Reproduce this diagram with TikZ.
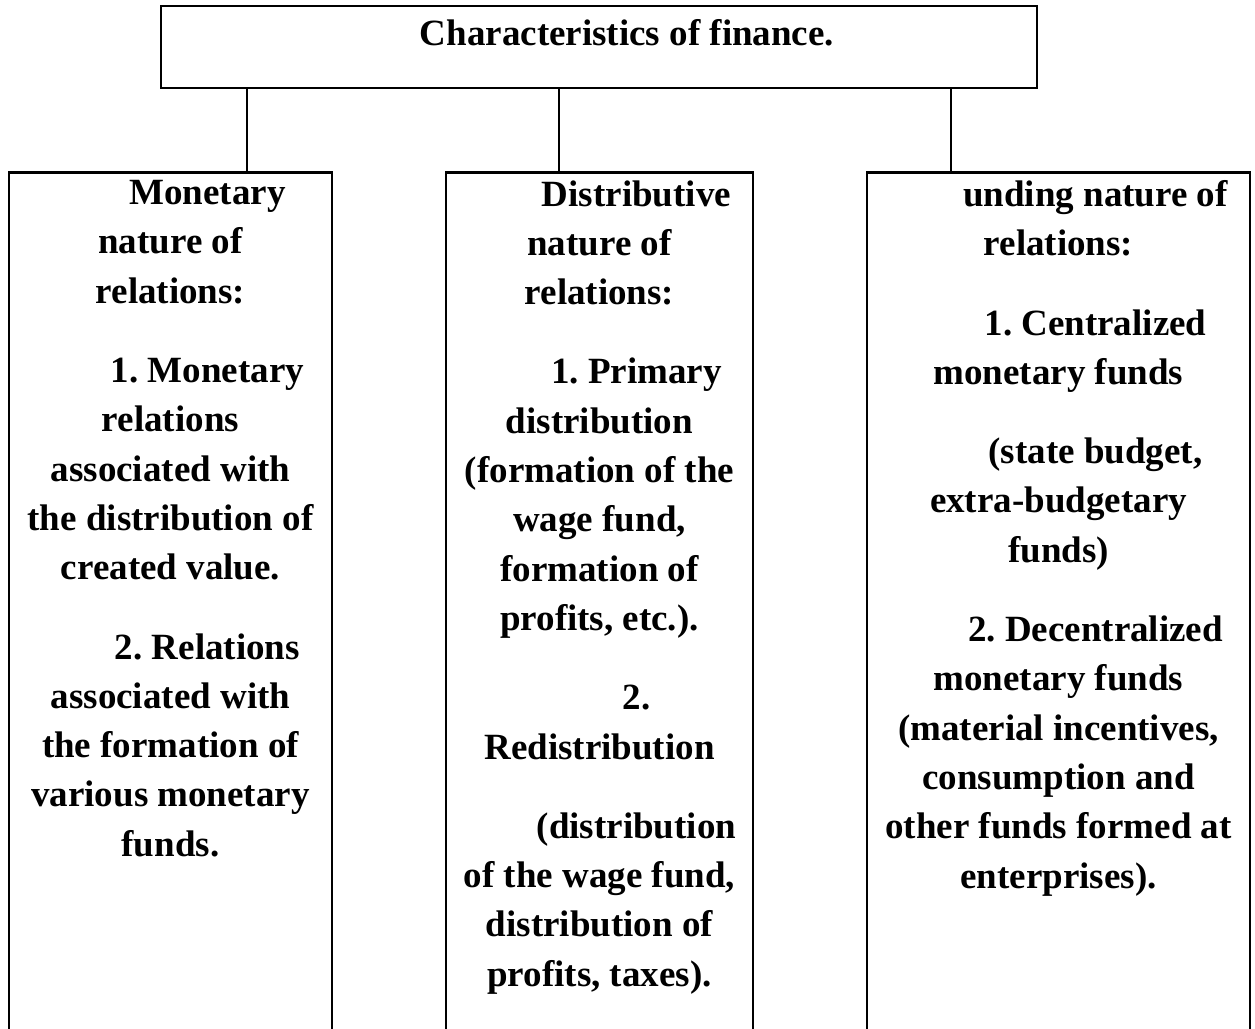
\documentclass[tikz,border=0pt]{standalone}
\usepackage{fontspec}
\setmainfont{Liberation Serif}
\usetikzlibrary{positioning,calc}
\frenchspacing

\begin{document}
\begin{tikzpicture}[x=1pt, y=-1pt,
        box/.style={draw, line width=1.4pt, inner sep=0pt},
        col/.style={box, anchor=north, minimum height=440pt},
        txt/.style={align=center, inner sep=0pt, font=\bfseries\fontsize{18.5pt}{24.65pt}\selectfont},
        link/.style={line width=1pt}]
    \useasboundingbox (0,0) rectangle (627.5,514.5);
    \clip (0,0) rectangle (627.5,514.5);
    \node[box, minimum width=438pt, minimum height=41pt] (char) at (299.5,23.5) {};
    \node[col, minimum width=161.5pt] (mon) at (85.25,85.5) {};
    \node[col, minimum width=153.5pt] (dist) at (299.75,85.5) {};
    \node[col, minimum width=191.5pt] (fund) at (529.25,85.5) {};
    \node[txt, below=7.25pt of char.north] (chartxt) {\hspace*{28pt}Characteristics of finance.};
    \node[txt, below=4.5pt of mon.north] (montxt) {\hspace*{37pt}Monetary\\ nature of\\ relations:\\[15pt]
        \hspace*{37pt}1. Monetary\\ relations\\ associated with\\ the distribution of\\ created value.\\[15pt]
        \hspace*{37pt}2. Relations\\ associated with\\ the formation of\\ various monetary\\ funds.};
    \node[txt, below=4.5pt of dist.north] (disttxt) {\hspace*{37pt}Distributive\\ nature of\\ relations:\\[15pt]
        \hspace*{37pt}1. Primary\\ distribution\\ (formation of the\\ wage fund,\\ formation of\\ profits, etc.).\\[15pt]
        \hspace*{37pt}2.\\ Redistribution\\[15pt]
        \hspace*{37pt}(distribution\\ of the wage fund,\\ distribution of\\ profits, taxes).};
    \node[txt, below=4.5pt of fund.north] (fundtxt) {\hspace*{37pt}unding nature of\\ relations:\\[15pt]
        \hspace*{37pt}1. Centralized\\ monetary funds\\[15pt]
        \hspace*{37pt}(state budget,\\ extra-budgetary\\ funds)\\[15pt]
        \hspace*{37pt}2. Decentralized\\ monetary funds\\ (material incentives,\\ consumption and\\ other funds formed at\\ enterprises).};
    \coordinate (m) at ($(mon.north west)!.734!(mon.north east)$);
    \coordinate (d) at ($(dist.north west)!.368!(dist.north east)$);
    \coordinate (f) at ($(fund.north west)!.222!(fund.north east)$);
    \draw[link] (m) -- (m |- char.south);
    \draw[link] (d) -- (d |- char.south);
    \draw[link] (f) -- (f |- char.south);
\end{tikzpicture}
\end{document}
